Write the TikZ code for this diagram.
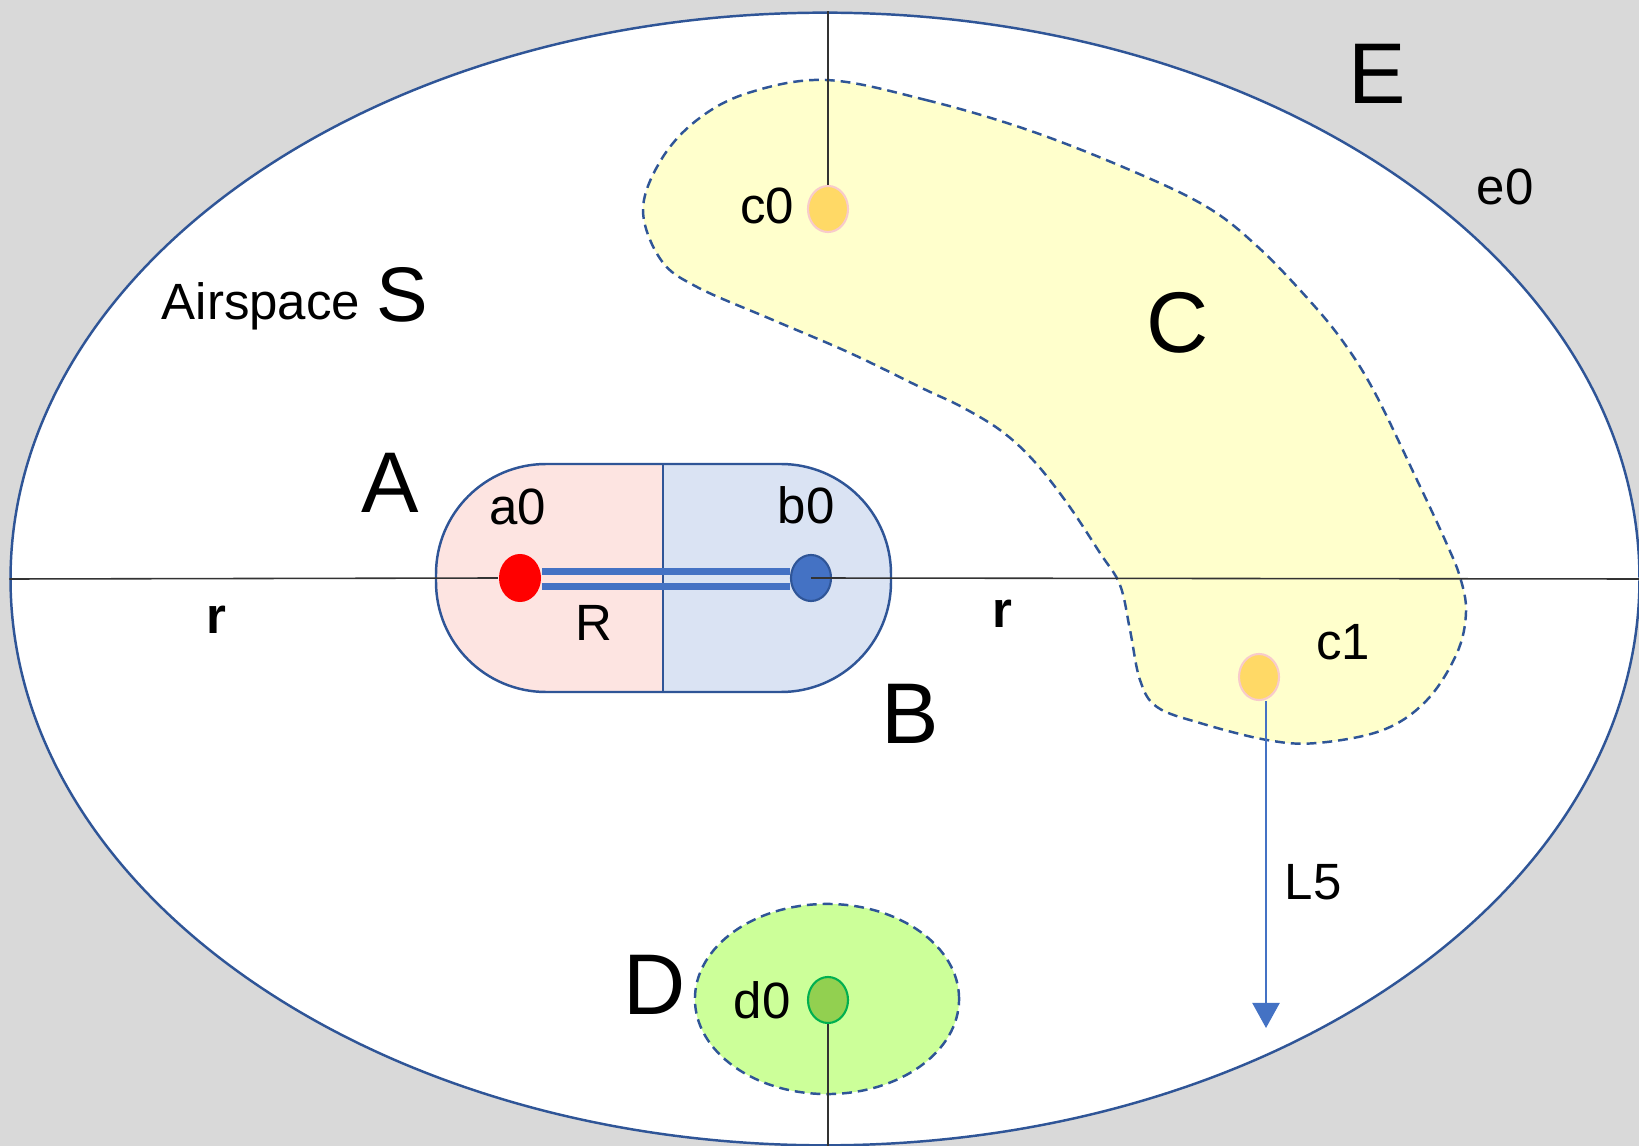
\documentclass[tikz,border=0pt]{standalone}
\usepackage{fontspec}
\setmainfont{Liberation Sans}
\usetikzlibrary{shapes.geometric,arrows.meta}
\definecolor{figGris}{RGB}{217,217,217}
\definecolor{figBord}{RGB}{47,85,151}
\definecolor{figBleu}{RGB}{68,114,196}
\definecolor{figBleuFond}{RGB}{218,227,243}
\definecolor{figRoseFond}{RGB}{253,228,225}
\definecolor{figJauneFond}{RGB}{255,255,204}
\definecolor{figVertFond}{RGB}{204,255,153}
\definecolor{figOr}{RGB}{255,217,102}
\definecolor{figRose}{RGB}{248,203,203}
\definecolor{figVertPt}{RGB}{146,208,80}
\definecolor{figVert}{RGB}{0,176,80}

\begin{document}
\begin{tikzpicture}[
  x=0.01cm, y=-0.01cm,
  every node/.style={font=\fontsize{14.5pt}{17pt}\selectfont},
  grand/.style={font=\fontsize{24.5pt}{29pt}\selectfont},
  zone/.style={draw=figBord, line width=0.7pt, dash pattern=on 2.8pt off 1.7pt},
  pastille/.style={ellipse, minimum width=0.4cm, minimum height=0.46cm, inner sep=0pt, line width=0.6pt},
  axe/.style={draw=black!80, line width=0.45pt},
  bord/.style={draw=figBord, line width=0.7pt}
]

% ---- fond gris et espace aerien ----
\fill[figGris] (0,0) rectangle (1639,1146);
\useasboundingbox (0,0) rectangle (1639,1146);
\node[ellipse, bord, fill=white, minimum width=16.28cm, minimum height=11.32cm] (espace) at (825,579) {};

% ---- zone C (forme libre) ----
\filldraw[zone, fill=figJauneFond] plot[smooth cycle, tension=0.6] coordinates {
  (826,80) (926,100) (1028,130) (1130,170) (1207,207) (1258,247) (1309,300)
  (1344,343) (1375,393) (1417,480) (1445,540) (1460,577) (1466,612) (1457,653)
  (1427,700) (1383,730) (1317,743) (1267,740) (1200,723) (1157,707) (1140,680)
  (1130,630) (1120,585) (1100,553) (1067,503) (1033,460) (1000,430) (960,406)
  (926,390) (850,353) (773,320) (697,287) (661,260) (643,210) (661,160)
  (697,120) (748,93)};

% ---- zone D ----
\node[ellipse, zone, fill=figVertFond, minimum width=2.64cm, minimum height=1.9cm] (zoneD) at (827,999) {};

% ---- capsule A | B ----
\begin{scope}
  \clip[rounded corners=1.1cm] (436,464) rectangle (891,692);
  \fill[figRoseFond] (436,464) rectangle (663,692);
  \fill[figBleuFond] (663,464) rectangle (891,692);
\end{scope}
\draw[bord, rounded corners=1.1cm] (436,464) rectangle (891,692);
\draw[bord] (663,464) -- (663,692);

% ---- pastilles ----
\node[pastille, fill=red, minimum width=0.42cm, minimum height=0.48cm] (a0) at (520,578) {};
\node[pastille, fill=figBleu, draw=figBord] (b0) at (811,578) {};
\node[pastille, fill=figOr, draw=figRose] (c0) at (828,209) {};
\node[pastille, fill=figOr, draw=figRose] (c1) at (1259,677) {};
\node[pastille, fill=figVertPt, draw=figVert] (d0) at (828,1000) {};

% ---- axes ----
\draw[axe] (espace.west) -- (a0.west);
\draw[axe] (b0.center) -- (espace.east);
\draw[axe] (c0.north |- espace.north) -- (c0.north);
\draw[axe] (d0.south) -- (d0.south |- espace.south);

% ---- liaison R (double trait) ----
\draw[figBleu, line width=0.07cm] ([yshift=0.065cm]a0.east) -- ([yshift=0.065cm]b0.west);
\draw[figBleu, line width=0.07cm] ([yshift=-0.085cm]a0.east) -- ([yshift=-0.085cm]b0.west);

% ---- trajectoire L5 ----
\coordinate (l5bout) at (1266,1028);
\draw[figBleu, line width=0.6pt, -{Triangle[width=0.27cm, length=0.25cm]}] (c1.south -| l5bout) -- (l5bout);

% ---- etiquettes ----
\node[grand] (lblA) at (390,483) {A};
\node[grand] (lblB) at (910,714) {B};
\node[grand] (lblC) at (1178,323) {C};
\node[grand] (lblD) at (655,985) {D};
\node[grand] (lblE) at (1377,74) {E};
\node[anchor=base] (lblAir) at (261,320) {Airspace};
\node[font=\fontsize{22pt}{26pt}\selectfont] (lblS) at (402,295) {S};
\node (la0) at (518,507) {a0};
\node (lb0) at (806,505) {b0};
\node (lc0) at (767,206) {c0};
\node (lc1) at (1343,642) {c1};
\node (ld0) at (762,1000) {d0};
\node (le0) at (1505,187) {e0};
\node (lR) at (594,623) {R};
\node (lL5) at (1313,882) {L5};
\node[font=\fontsize{14.5pt}{17pt}\selectfont\bfseries] (lr1) at (216,620) {r};
\node[font=\fontsize{14.5pt}{17pt}\selectfont\bfseries] (lr2) at (1002,614) {r};

\end{tikzpicture}
\end{document}
